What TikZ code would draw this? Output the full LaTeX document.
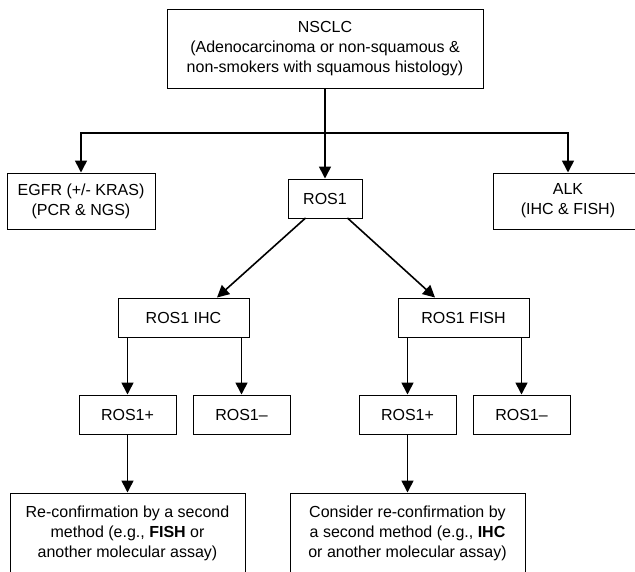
\documentclass[tikz,border=0pt]{standalone}
\usepackage{fontspec}
\setmainfont{Liberation Sans}
\usetikzlibrary{arrows.meta}

\tikzset{
  box/.style={draw, line width=1pt, align=center, inner sep=0pt,
    font=\fontsize{16}{20}\selectfont},
  arr/.style={-{Triangle[width=12pt,length=12pt]}, line width=1.6pt, line cap=rect}
}

\begin{document}
\begin{tikzpicture}[x=1pt, y=-1pt]

\clip (0, 0) rectangle (635, 571);

\node[box, minimum width=316, minimum height=79] (nsclc) at (325, 48.5)
  {NSCLC\\(Adenocarcinoma or non-squamous \&\\non-smokers with squamous histology)};

\node[box, minimum width=148, minimum height=56] (egfr) at (81, 201) {EGFR (+/- KRAS)\\(PCR \& NGS)};
\node[box, minimum width=74, minimum height=39] (ros) at (325, 198.5) {ROS1};
\node[box, minimum width=150, minimum height=56] (alk) at (568, 201) {ALK\\(IHC \& FISH)};

\node[box, minimum width=131, minimum height=39] (ihc) at (183.5, 317.5) {ROS1 IHC};
\node[box, minimum width=131, minimum height=39] (fish) at (463.5, 317.5) {ROS1 FISH};

\node[box, minimum width=97, minimum height=39] (ihcpos) at (127.5, 414.5) {ROS1+};
\node[box, minimum width=97, minimum height=39] (ihcneg) at (241.5, 414.5) {ROS1--};
\node[box, minimum width=97, minimum height=39] (fishpos) at (407.5, 414.5) {ROS1+};
\node[box, minimum width=97, minimum height=39] (fishneg) at (521.5, 414.5) {ROS1--};

\node[box, minimum width=235, minimum height=80] (ihcnote) at (127.5, 533)
  {Re-confirmation by a second\\method (e.g., \textbf{FISH} or\\another molecular assay)};
\node[box, minimum width=235, minimum height=80] (fishnote) at (407.5, 533)
  {Consider re-confirmation by\\a second method (e.g., \textbf{IHC}\\or another molecular assay)};

\coordinate (split) at (325, 133);

\draw[arr] (nsclc) -- (ros);
\draw[arr] (split -| alk) -- (split -| egfr) -- (egfr);
\draw[arr] (split -| alk) -- (alk);

\draw[arr] ([xshift=-20]ros.south) -- ([xshift=33.5]ihc.north);
\draw[arr] ([xshift=23]ros.south) -- ([xshift=-28.5]fish.north);

\foreach \p/\c in {ihc/ihcpos, ihc/ihcneg, fish/fishpos, fish/fishneg}
  \draw[arr] (\p.south -| \c) -- (\c);

\draw[arr] (ihcpos) -- (ihcnote);
\draw[arr] (fishpos) -- (fishnote);

\end{tikzpicture}
\end{document}
